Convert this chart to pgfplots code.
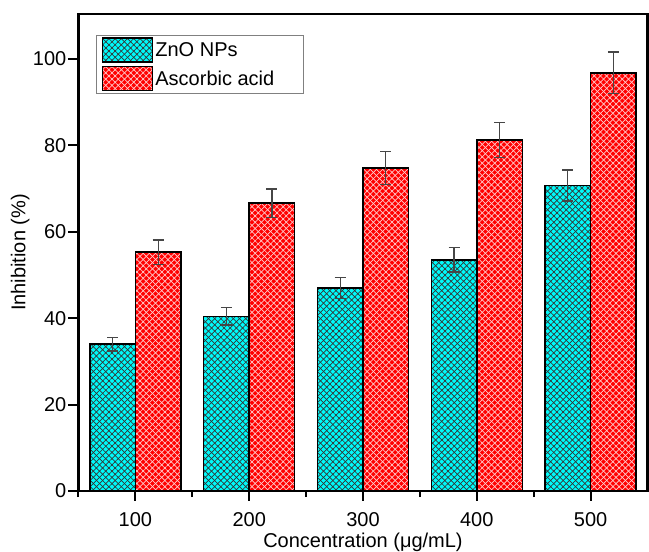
\documentclass[border=0pt]{standalone}
\usepackage{fontspec}
\setmainfont{Liberation Sans}
\usepackage{pgfplots}
\pgfplotsset{compat=1.18}
\usetikzlibrary{patterns.meta,calc}
\definecolor{zcyan}{RGB}{0,250,250}
\definecolor{ared}{RGB}{255,0,0}
\definecolor{errgray}{RGB}{70,70,70}
\pgfplotstableread{
x y e
0 34.0 1.6
1 40.4 2.0
2 47.0 2.4
3 53.5 2.8
4 70.7 3.6
}\zno
\pgfplotstableread{
x y e
0 55.3 2.8
1 66.6 3.3
2 74.7 3.8
3 81.2 4.0
4 96.8 4.8
}\asc
\begin{document}
\begin{tikzpicture}
\begin{axis}[
  name=ax,
  scale only axis,
  width=569bp, height=477bp,
  xmin=-0.5, xmax=4.5,
  ymin=0, ymax=110.4,
  ybar=0pt, bar width=0.4,
  xtick={0,1,2,3,4},
  xticklabels={100,200,300,400,500},
  minor xtick={-0.5,0.5,1.5,2.5,3.5},
  ytick={0,20,40,60,80,100},
  axis line style={line width=2.5bp},
  tick style={line width=2bp, black},
  major tick length=10bp,
  minor tick length=6bp,
  tick align=outside,
  xtick pos=bottom, ytick pos=left,
  /pgf/number format/assume math mode=true,
  tick label style={font=\fontsize{20bp}{24bp}\selectfont},
  label style={font=\fontsize{20bp}{24bp}\selectfont},
  xticklabel style={inner sep=2bp, yshift=-9bp},
  yticklabel style={inner sep=2bp},
  xlabel={Concentration (μg/mL)},
  ylabel={Inhibition (\%)},
  xlabel style={at={(axis description cs:0.5,0)}, anchor=center, yshift=-51bp},
  ylabel style={yshift=-2bp},
  legend style={at={(0,1)}, anchor=north west, xshift=18bp, yshift=-21bp,
    draw=gray, line width=0.8bp, inner xsep=5bp, inner ysep=2bp, row sep=3bp,
    font=\fontsize{20bp}{24bp}\selectfont, cells={anchor=west}},
  legend image code/.code={\draw[#1] (0bp,-12bp) rectangle (50bp,12bp);},
  error bars/error bar style={errgray, line width=1.2bp},
  error bars/error mark options={errgray, rotate=90, mark size=5.5bp, line width=1.2bp},
]
\addplot[draw=black, line width=1.5bp, fill=zcyan,
  postaction={pattern={Lines[angle=45,distance=4.4bp,line width=0.7bp]},pattern color=black!80},
  postaction={pattern={Lines[angle=-45,distance=4.4bp,line width=0.7bp]},pattern color=black!80},
  error bars/.cd, y dir=both, y explicit]
  table[x=x, y=y, y error=e]{\zno};
\addlegendentry{ZnO NPs}
\addplot[draw=black, line width=1.5bp, fill=ared,
  postaction={pattern={Lines[angle=45,distance=4.4bp,line width=0.7bp]},pattern color=red!20!white},
  postaction={pattern={Lines[angle=-45,distance=4.4bp,line width=0.7bp]},pattern color=red!20!white},
  error bars/.cd, y dir=both, y explicit]
  table[x=x, y=y, y error=e]{\asc};
\addlegendentry{Ascorbic acid\hspace*{22bp}}
\end{axis}
\pgfresetboundingbox
\path[use as bounding box] ($(ax.south west)+(-78.5bp,-61bp)$) rectangle ($(ax.north east)+(1.5bp,14bp)$);
\end{tikzpicture}
\end{document}
